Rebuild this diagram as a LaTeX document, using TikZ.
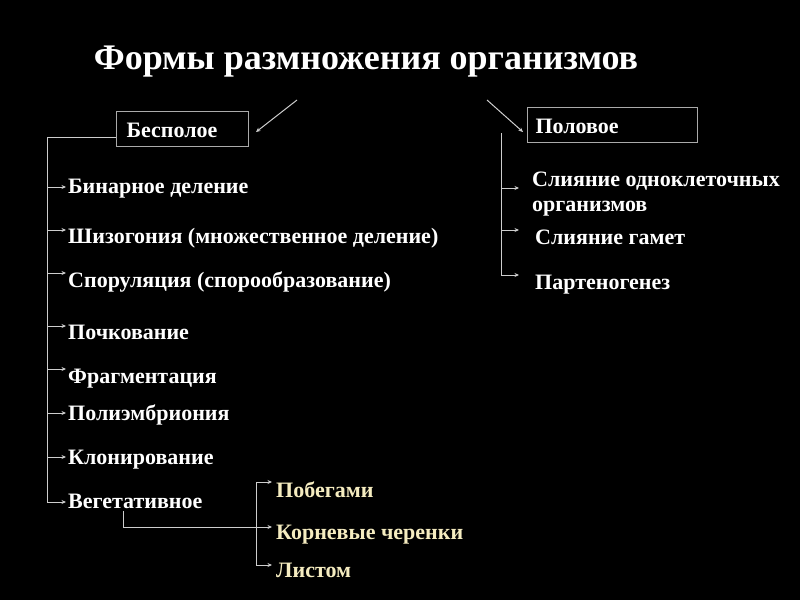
\documentclass[tikz,border=0pt]{standalone}
\usepackage{fontspec}
\setmainfont{Liberation Serif}
\usetikzlibrary{arrows.meta,calc}
\definecolor{lgray}{RGB}{205,205,205}
\definecolor{boxgray}{RGB}{170,170,170}
\definecolor{cream}{RGB}{245,236,192}
\begin{document}
\begin{tikzpicture}[x=1pt,y=-1pt,
  ln/.style={draw=lgray, line width=1pt},
  arr/.style={ln, -{Stealth[length=4.5pt,width=4pt]}},
  item/.style={anchor=west, inner sep=0pt, text height=16pt, text depth=5pt,
    font=\fontsize{22}{25}\selectfont\bfseries, text=white},
  sub/.style={item, text=cream},
  box/.style={draw=boxgray, line width=1pt, anchor=north west, inner ysep=0pt,
    text height=17pt, text depth=0pt,
    minimum height=35pt, font=\fontsize{22}{25}\selectfont\bfseries, text=white},
  ttl/.style={inner sep=0pt, font=\fontsize{36}{40}\selectfont\bfseries, text=white}]
\fill[black] (0,0) rectangle (800,600);
\useasboundingbox (0,0) rectangle (800,600);

\node[ttl] (title) at (366,62) {Формы размножения организмов};

\node[box, text width=112pt, inner xsep=10pt] (bes) at (116,111) {Бесполое};
\node[box, text width=154pt, inner xsep=8pt] (pol) at (527,107) {Половое};

\coordinate (a1) at (297,100);
\coordinate (a2) at (487,100);
\draw[arr] (a1) -- ($(bes.east)+(7,3)$);
\draw[arr] (a2) -- ($(pol.west)+(-4,7)$);

% left branch
\node[item] (b1) at (68,188.3) {Бинарное деление};
\node[item] (b2) at (68,238.3) {Шизогония (множественное деление)};
\node[item] (b3) at (68,281.8) {Споруляция (спорообразование)};
\node[item] (b4) at (68,334.3) {Почкование};
\node[item] (b5) at (68,377.8) {Фрагментация};
\node[item] (b6) at (68,415.3) {Полиэмбриония};
\node[item] (b7) at (68,458.8) {Клонирование};
\node[item] (b8) at (68,503.3) {Вегетативное};

\coordinate (L0) at (47,137);
\draw[ln] (bes.west |- L0) -- (L0) -- ($(L0 |- b8.west)+(0,-1.3)$);
\foreach \n/\s in {b1/1.3,b2/8.3,b3/8.8,b4/8.3,b5/8.8,b6/2.3,b7/1.8,b8/1.3}
  \draw[arr, shorten >=2pt] ($(L0 |- \n.west)+(0,-\s)$) -- ($(\n.west)+(0,-\s)$);

% vegetative sub-branch
\node[sub] (s1) at (276,491.8) {Побегами};
\node[sub] (s2) at (276,534.3) {Корневые черенки};
\node[sub] (s3) at (276,572.3) {Листом};
\coordinate (V0) at (123,511);
\coordinate (V1) at (256,527);
\draw[ln] (V0) -- (V0 |- V1) -- (V1);
\draw[ln] ($(V1 |- s1.west)+(0,-9.8)$) -- ($(V1 |- s3.west)+(0,-7.3)$);
\foreach \n/\s in {s1/9.8,s2/7.3,s3/7.3}
  \draw[arr, shorten >=4pt] ($(V1 |- \n.west)+(0,-\s)$) -- ($(\n.west)+(0,-\s)$);

% right branch
\node[anchor=west, inner sep=0pt, align=left, text=white, font=\fontsize{22}{25}\selectfont\bfseries] (r1) at (532,194) {Слияние одноклеточных\\организмов};
\node[item] (r2) at (535,238.8) {Слияние гамет};
\node[item] (r3) at (535,283.8) {Партеногенез};
\coordinate (R0) at (501,133);
\draw[ln] (R0) -- ($(R0 |- r3.west)+(0,-8.8)$);
\draw[arr, shorten >=13pt] ($(R0 |- r1.west)+(0,-6)$) -- ($(r1.west)+(0,-6)$);
\draw[arr, shorten >=16pt] ($(R0 |- r2.west)+(0,-8.8)$) -- ($(r2.west)+(0,-8.8)$);
\draw[arr, shorten >=16pt] ($(R0 |- r3.west)+(0,-8.8)$) -- ($(r3.west)+(0,-8.8)$);
\end{tikzpicture}
\end{document}
